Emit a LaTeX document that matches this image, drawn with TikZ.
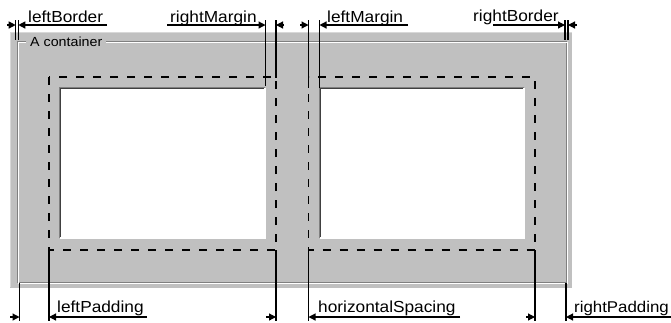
\documentclass[tikz,border=0pt]{standalone}
\usepackage{fontspec}
\setmainfont{Liberation Sans}[FakeStretch=1.08]
\usetikzlibrary{arrows.meta}

\definecolor{panelgray}{HTML}{C0C0C0}
\definecolor{panellight}{HTML}{D8D8D8}
\definecolor{edgeshadow}{HTML}{808080}
\definecolor{edgedark}{HTML}{404040}
\definecolor{edgelight}{HTML}{FFFFFF}

\begin{document}
\begin{tikzpicture}[x=1pt,y=-1pt,
  extline/.style={line width=1.2pt,black},
  dimline/.style={line width=1.2pt,black,-{Triangle[length=7pt,width=7pt]}},
  marginbox/.style={line width=1.2pt,black,dash pattern=on 8pt off 9pt},
  dimlabel/.style={inner sep=0pt,anchor=base west,font=\fontsize{16}{18}\selectfont},
  framelabel/.style={inner xsep=4pt,inner ysep=1pt,anchor=west,fill=panelgray,
                     font=\fontsize{13.2}{15}\selectfont}]
\useasboundingbox (0,0) rectangle (671,322);

% container panel
\fill[panelgray] (10,32) rectangle (572,288);
\draw[panellight,line width=1pt] (10.5,287) -- (10.5,32.5) -- (572,32.5);

% etched group frame
\draw[edgeshadow,line width=1pt] (17,41) rectangle (566,282);
\draw[edgelight,line width=1pt] (18,42) rectangle (567,283);
\node[framelabel] (title) at (26,41.5) {A container};

% child components (sunken white boxes)
\foreach \name/\xa/\xb in {childL/60/265, childR/319.5/524}{
  \fill[white] (\xa,88) rectangle (\xb,238);
  \draw[edgelight,line width=1pt] (\xa,238.5) -- (\xb+0.5,238.5) -- (\xb+0.5,88);
  \draw[edgeshadow,line width=1pt] (\xa-0.5,238) -- (\xa-0.5,87.5) -- (\xb,87.5);
  \draw[edgedark,line width=1pt] (\xa+0.5,237) -- (\xa+0.5,88.5) -- (\xb-1,88.5);
}

% margin boxes around the children
\draw[marginbox] (49,77) rectangle (276,250);
\draw[marginbox] (308.5,77) rectangle (535,250);

% extension lines: top
\coordinate (lbA1) at (15.7,20);  \coordinate (lbA2) at (15.7,40);
\coordinate (lbB1) at (18.3,20);  \coordinate (lbB2) at (18.3,40);
\coordinate (rmA1) at (265.5,20); \coordinate (rmA2) at (265.5,86);
\coordinate (rmB1) at (276,20);   \coordinate (rmB2) at (276,78);
\coordinate (lmA1) at (308.5,20); \coordinate (lmA2) at (308.5,88);
\coordinate (lmB1) at (319.5,20); \coordinate (lmB2) at (319.5,88);
\coordinate (rbA1) at (565,20);   \coordinate (rbA2) at (565,40);
\coordinate (rbB1) at (568,20);   \coordinate (rbB2) at (568,40);
\foreach \e in {lb,rm,lm,rb}{
  \draw[extline] (\e A1) -- (\e A2);
  \draw[extline] (\e B1) -- (\e B2);
}

% extension lines: bottom
\coordinate (lpA1) at (19.5,283); \coordinate (lpA2) at (19.5,321);
\coordinate (lpB1) at (49,250);   \coordinate (lpB2) at (49,321);
\coordinate (hsA1) at (276,250);  \coordinate (hsA2) at (276,321);
\coordinate (hsB1) at (308.5,250);\coordinate (hsB2) at (308.5,321);
\coordinate (rpA1) at (535,250);  \coordinate (rpA2) at (535,321);
\coordinate (rpB1) at (566,283);  \coordinate (rpB2) at (566,321);
\foreach \e in {lp,hs,rp}{
  \draw[extline] (\e A1) -- (\e A2);
  \draw[extline] (\e B1) -- (\e B2);
}

% dimension arrows: tails and tips
\coordinate (lbT1) at (7,25);    \coordinate (lbP1) at (15.7,25);
\coordinate (lbT2) at (107,25);  \coordinate (lbP2) at (18.3,25);
\coordinate (rmT1) at (167,25);  \coordinate (rmP1) at (265.5,25);
\coordinate (rmT2) at (284,25);  \coordinate (rmP2) at (276,25);
\coordinate (lmT1) at (300,25);  \coordinate (lmP1) at (308.5,25);
\coordinate (lmT2) at (408,25);  \coordinate (lmP2) at (319.5,25);
\coordinate (rbT1) at (493,25);  \coordinate (rbP1) at (565,25);
\coordinate (rbT2) at (577,25);  \coordinate (rbP2) at (568,25);
\coordinate (lpT1) at (10,317);  \coordinate (lpP1) at (19.5,317);
\coordinate (lpT2) at (147,317); \coordinate (lpP2) at (49,317);
\coordinate (hsT1) at (266,317); \coordinate (hsP1) at (276,317);
\coordinate (hsT2) at (460,317); \coordinate (hsP2) at (308.5,317);
\coordinate (rpT1) at (526,317); \coordinate (rpP1) at (535,317);
\coordinate (rpT2) at (671,317); \coordinate (rpP2) at (566,317);
\foreach \e in {lb,rm,lm,rb,lp,hs,rp}{
  \draw[dimline] (\e T1) -- (\e P1);
  \draw[dimline] (\e T2) -- (\e P2);
}

% dimension labels
\node[dimlabel] (lbL) at (28,22)  {leftBorder};
\node[dimlabel] (rmL) at (170,22) {rightMargin};
\node[dimlabel] (lmL) at (327,22) {leftMargin};
\node[dimlabel] (rbL) at (473,21) {rightBorder};
\node[dimlabel] (lpL) at (57,312)  {leftPadding};
\node[dimlabel] (hsL) at (318,312) {horizontalSpacing};
\node[dimlabel,font=\fontsize{15.6}{18}\selectfont] (rpL) at (574,312) {rightPadding};
\end{tikzpicture}
\end{document}
